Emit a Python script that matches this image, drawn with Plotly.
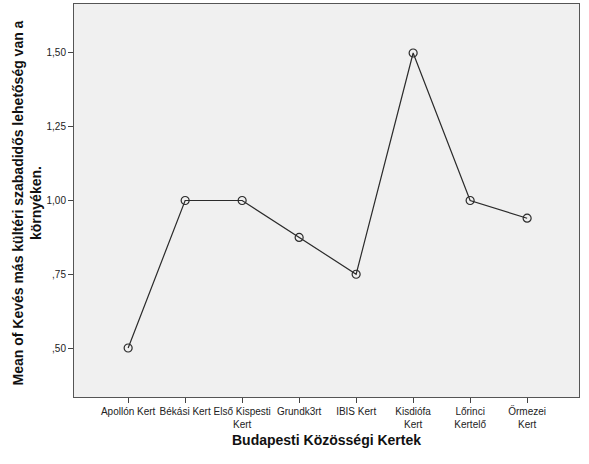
import plotly.graph_objects as go

categories = ["Apollón Kert", "Békási Kert", "Első Kispesti<br>Kert", "Grundk3rt",
              "IBIS Kert", "Kisdiófa<br>Kert", "Lőrinci<br>Kertelő", "Őrmezei<br>Kert"]
values = [0.5, 1.0, 1.0, 0.875, 0.75, 1.5, 1.0, 0.94]
y_tickvals = [0.5, 0.75, 1.0, 1.25, 1.5]
y_ticktext = [",50", ",75", "1,00", "1,25", "1,50"]

font = "Liberation Sans, Arial, sans-serif"

fig = go.Figure()
fig.add_trace(go.Scatter(
    x=list(range(len(categories))), y=values, mode="lines+markers",
    line=dict(color="#2b2b2b", width=1.2),
    marker=dict(symbol="circle-open", size=8, color="#2b2b2b", line=dict(width=1.2)),
    showlegend=False,
))

fig.update_layout(
    width=589, height=464,
    margin=dict(l=74, r=10, t=4, b=67),
    paper_bgcolor="white", plot_bgcolor="#f0f0f0",
    font=dict(family=font, size=10, color="#222"),
    xaxis=dict(
        range=[-0.95, 7.91], tickmode="array",
        tickvals=list(range(len(categories))), ticktext=categories,
        tickangle=0, automargin=False,
        ticks="outside", ticklen=5, tickcolor="#444", tickfont=dict(size=10, color="#222"),
        showgrid=False, zeroline=False, showline=True, linecolor="#555", mirror=True,
    ),
    yaxis=dict(
        range=[0.334, 1.666], tickmode="array", tickvals=y_tickvals, ticktext=y_ticktext,
        automargin=False,
        ticks="outside", ticklen=5, tickcolor="#444", tickfont=dict(size=10, color="#222"),
        showgrid=False, zeroline=False, showline=True, linecolor="#555", mirror=True,
    ),
    annotations=[
        dict(text="<b>Budapesti Közösségi Kertek</b>", xref="paper", yref="paper",
             x=0.5, y=0, yshift=-43, xanchor="center", yanchor="middle",
             showarrow=False, font=dict(size=14, color="#111")),
        dict(text="<b>Mean of Kevés más kültéri szabadidős lehetőség van a<br>környéken.</b>",
             xref="paper", yref="paper", x=0, xshift=-48, y=0.5, yshift=-3,
             xanchor="center", yanchor="middle", textangle=-90,
             showarrow=False, font=dict(size=14, color="#111")),
    ],
)

fig.write_html("out.html", config={"displayModeBar": False},
               post_script="document.body.style.margin='0';document.body.style.overflow='hidden';")
